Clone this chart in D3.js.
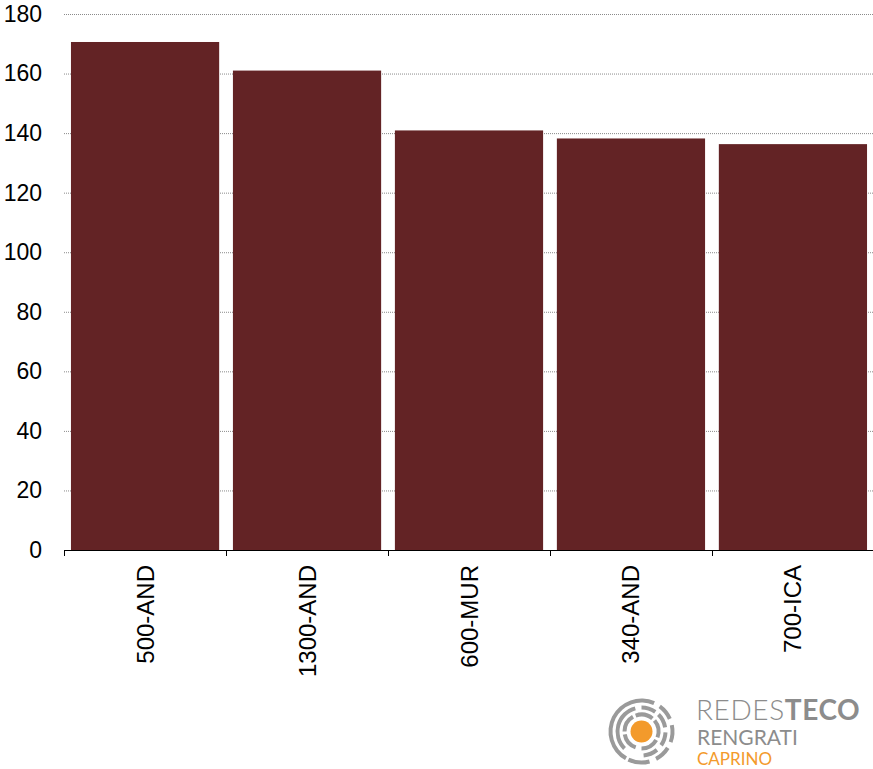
<!DOCTYPE html>
<html><head><meta charset="utf-8">
<script src="https://cdn.jsdelivr.net/npm/d3@7"></script>
<style>body{margin:0;background:#fff;} svg{display:block;}</style>
</head><body>
<svg id="c" width="873" height="769"></svg>
<script>
const categories = ["500-AND","1300-AND","600-MUR","340-AND","700-ICA"];
const values = [170.6, 161.0, 140.9, 138.2, 136.3];
const yTicks = [0,20,40,60,80,100,120,140,160,180];

(function(){
const svg = d3.select("#c");
const mL = 64, mR = 874, mT = 14, mB = 550;
const x = d3.scaleBand().domain(categories).range([mL, mR]).paddingInner(0.085).paddingOuter(0.043);
const y = d3.scaleLinear().domain([0,180]).range([mB, mT]);
const font = "'Liberation Sans', Arial, sans-serif";

// gridlines
svg.append("g").selectAll("line").data(yTicks.filter(d=>d>0)).join("line")
  .attr("x1", mL).attr("x2", 873).attr("y1", d=>y(d)+0.5).attr("y2", d=>y(d)+0.5)
  .attr("stroke", "#8a8a8a").attr("stroke-width", 1).attr("stroke-dasharray", "1,1");

// bars
svg.append("g").selectAll("rect").data(values).join("rect")
  .attr("x", (d,i)=>x(categories[i])).attr("width", x.bandwidth())
  .attr("y", d=>y(d)).attr("height", d=>y(0)-y(d))
  .attr("fill", "#632325");

// y axis
const ya = svg.append("g").attr("transform", `translate(${mL},0)`)
  .call(d3.axisLeft(y).tickValues(yTicks).tickSize(0).tickPadding(22));
ya.select(".domain").remove();
ya.selectAll("text").attr("font-family", font).attr("font-size", 23).attr("fill", "#000");

// x axis baseline and ticks
const xa = svg.append("g");
xa.append("line").attr("x1", mL).attr("x2", 873).attr("y1", mB+0.5).attr("y2", mB+0.5)
  .attr("stroke", "#000").attr("stroke-width", 1);
const bounds = d3.range(categories.length+1).map(i => mL + i*(mR-mL)/categories.length);
xa.selectAll("line.t").data(bounds).join("line").attr("class","t")
  .attr("x1", d=>Math.round(d)+0.5).attr("x2", d=>Math.round(d)+0.5)
  .attr("y1", mB).attr("y2", mB+6).attr("stroke", "#000");
xa.selectAll("text").data(categories).join("text")
  .attr("transform", d=>`translate(${x(d)+x.bandwidth()/2+8.5},${mB+15}) rotate(-90)`)
  .attr("text-anchor", "end").attr("font-family", font).attr("font-size", 24).attr("fill", "#000")
  .text(d=>d);

// logo
const logo = svg.append("g").attr("transform", "translate(641.5,731.5)");
logo.append("circle").attr("r", 11).attr("fill", "#f39a2b");
const rad = Math.PI/180;
const rings = [
  {r:17, segs:[[-160,-100],[-90,-30],[-20,40],[50,110],[120,180]]},
  {r:24, segs:[[-135,-15],[0,35],[45,80],[92,125],[140,175]]},
  {r:31, segs:[[-150,24],[36,66],[78,110],[122,152],[165,205]]}
];
const arc = d3.arc();
rings.forEach(g=>{
  logo.selectAll(null).data(g.segs).join("path")
    .attr("d", s=>arc({innerRadius:g.r-2, outerRadius:g.r+2, startAngle:s[0]*rad, endAngle:s[1]*rad}))
    .attr("fill", "#9a9a9a");
});
const lf = "Lato, 'Open Sans', sans-serif";
const t1 = svg.append("text").attr("x", 696).attr("y", 720).attr("font-family", lf)
  .attr("font-size", 28).attr("letter-spacing", 0.6).attr("fill", "#8c8c8c");
t1.append("tspan").attr("font-weight", 300).text("REDES");
t1.append("tspan").attr("font-weight", 700).text("TECO");
svg.append("text").attr("x", 697).attr("y", 745).attr("font-family", lf)
  .attr("font-size", 21).attr("fill", "#8c8c8c").text("RENGRATI");
svg.append("text").attr("x", 697).attr("y", 765).attr("font-family", lf)
  .attr("font-size", 17).attr("fill", "#f39a2b").text("CAPRINO");
})();
</script>
</body></html>
